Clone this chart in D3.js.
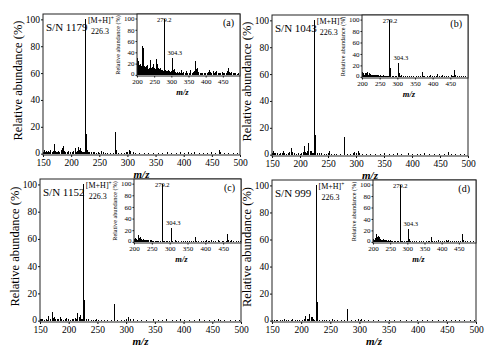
<!DOCTYPE html>
<html>
<head>
<meta charset="utf-8">
<script src="https://cdn.jsdelivr.net/npm/d3@7"></script>
<style>
  body { margin: 0; background: #fff; }
  svg text { font-family: "Liberation Serif", "Times New Roman", serif; fill: #000; }
  .tick line { stroke: #111; }
</style>
</head>
<body>
<svg id="chart" width="494" height="353"></svg>
<script>
// full spectra [m/z, relative abundance %]
const mainA = [[150.5,1.5],[152,2.5],[154,1],[156,2],[158,1.2],[160,1.8],[162,1],[164,3],[166,1.5],[168,2],[170,7],[172,2],[174,1.5],[176,1],[178,2],[180,1.5],[182,2.5],[184,4],[186,6],[188,2],[190,1.5],[193,1],[196,2],[199,1.2],[202,1.5],[205,2],[207,4],[209,1.5],[211,2],[213,5],[215,3],[216.5,4],[218,2],[220,1.5],[222,1],[224,1.5],[226.3,100],[227.3,15],[228.3,3],[230,1.5],[233,1],[236,1.5],[239,1.2],[242,1],[245,0.8],[248,1],[251,0.7],[254,2.2],[257,1],[261,0.6],[265,0.8],[270,0.6],[275,0.8],[279.2,16],[280.2,3],[284,0.8],[289,0.6],[294,0.8],[298,1],[301,1.5],[304.3,3],[306,2],[310,1.2],[315,0.6],[322,0.8],[330,0.6],[338,0.5],[347,0.8],[355,0.5],[363,0.6],[371,1.5],[379,0.6],[388,0.5],[395,1],[402,0.6],[409,1.5],[414,0.8],[420,1.5],[428,0.6],[436,0.5],[443,0.6],[450,1],[457,0.5],[464,3],[466,1.5],[472,0.8],[480,0.5],[488,0.6],[496,0.5]];
const mainB = [[151,1.5],[153,2.5],[155,1.5],[157,1],[160,1.2],[163,0.8],[166,1.5],[169,1],[171,3],[173,1.5],[176,0.8],[179,1],[182,2],[185,5],[187,2],[190,1],[194,0.8],[197,1.2],[200,0.8],[203,1.5],[206,2],[208,6.5],[210,2],[212,1.5],[214,3],[216,9],[218,3],[220,3],[222,1.5],[224,1],[226.3,100],[227.3,15],[228.3,3],[231,1],[235,1],[239,1.2],[243,0.7],[247,0.8],[250,1],[253,2.5],[256,0.8],[261,0.5],[266,0.6],[272,0.5],[279.2,13.5],[280.2,2.5],[285,0.5],[291,0.6],[296,1.5],[298,2],[301,1],[304.3,3],[306,1.5],[311,0.8],[318,0.5],[326,0.5],[335,0.6],[343,0.4],[351,1],[360,0.4],[367,0.5],[374,1],[382,0.4],[393,1],[400,0.5],[409,0.8],[416,0.5],[423,1],[431,0.4],[440,0.5],[449,0.6],[458,0.5],[465,2],[470,0.6],[478,0.4],[486,0.5],[494,0.4]];
const mainC = [[151,1],[153,1.5],[155,1],[158,0.8],[161,1.2],[163,0.8],[165.5,3.7],[168,1.5],[171,6],[173,2],[174.5,2.5],[177,1],[180,1],[183,1.5],[186,3],[188,1.5],[191,0.8],[194,1],[197,2],[200,1],[203,0.8],[206,1.2],[209,1],[212,2],[214,1.5],[216,5.7],[218,2.5],[220,4],[222,1.5],[224,1],[226.3,100],[227.3,15],[228.3,3],[231,1],[235,1],[239,0.8],[243,0.6],[246,0.8],[249,1.5],[252,0.6],[257,0.8],[262,0.5],[268,0.5],[274,0.6],[279.2,12],[280.2,2.2],[285,0.5],[292,0.5],[298,0.8],[301,1],[304.3,2.5],[307,1.2],[313,1.5],[319,0.5],[327,0.4],[336,0.5],[348,1],[357,0.4],[364,0.5],[371,1],[380,0.4],[388,0.4],[394,1],[402,0.4],[410,0.5],[419,0.4],[428,1],[437,0.4],[446,0.5],[453,0.4],[460,1.5],[464,0.8],[472,0.4],[481,0.5],[490,0.4],[497,0.3]];
const mainD = [[151,0.6],[154,0.8],[157,0.5],[160,0.6],[164,0.5],[168,0.8],[171,1],[175,0.5],[179,0.6],[183,0.5],[186,1],[190,0.5],[194,0.6],[198,0.5],[202,0.8],[205,1],[208,3.5],[211,1],[213,1.5],[215,5],[217,2.5],[219,2.5],[221,1],[223,0.8],[226.3,100],[227.3,14],[228.3,2.5],[232,0.6],[236,0.8],[240,0.5],[244,0.6],[249,0.8],[253,1],[258,0.5],[263,0.4],[269,0.4],[274,0.5],[279.2,8.5],[280.2,1.5],[286,0.4],[293,0.4],[299,1],[302,0.8],[304.3,1],[308,0.5],[315,0.4],[324,0.3],[333,0.4],[344,0.5],[352,0.3],[360,0.4],[371,0.5],[380,0.3],[390,0.4],[399,0.7],[408,0.4],[416,0.5],[426,0.3],[435,0.4],[444,0.3],[450,0.5],[458,0.3],[464,0.7],[471,0.3],[480,0.4],[490,0.3],[497,0.3]];

// inset spectra (MS/MS of 226.3)
const insetA = [[200.5,30],[201.5,22],[203,15],[204,25],[205,12],[206,18],[207,10],[208,14],[209,8],[210,20],[211,12],[212,9],[213,16],[214,11],[215,52],[216,18],[217,12],[218,10],[219,25],[220,48],[221,15],[222,12],[223,9],[224,14],[225,10],[226,12],[227,15],[228,9],[229,11],[230,8],[231,12],[232,18],[233,9],[234,10],[235,8],[236,12],[237,9],[238,14],[239,10],[240,27],[241,12],[242,9],[243,11],[244,8],[245,10],[246,14],[247,20],[248,10],[249,9],[250,12],[251,8],[252,10],[253,9],[254,11],[255,8],[256,14],[257,28],[258,12],[259,9],[260,10],[261,20],[262,12],[263,8],[264,9],[265,7],[266,10],[267,12],[268,7],[269,8],[270,6],[271,8],[272,6],[273,7],[274,6],[275,8],[276,5],[277,6],[279.2,100],[280.2,14],[281,6],[282,8],[283,5],[285,6],[287,5],[289,7],[291,5],[292,8],[294,5],[296,6],[298,5],[300,6],[302,7],[304.3,30],[305.3,8],[307,6],[309,10],[311,5],[313,5],[316,4],[319,5],[322,4],[325,5],[328,4],[330,8],[333,4],[336,5],[340,4],[344,6],[348,4],[352,4],[357,8],[361,4],[365,5],[368,6],[370,25],[372,8],[374,10],[377,12],[380,5],[384,4],[388,4],[392,3],[396,4],[400,3],[404,4],[408,5],[412,8],[415,5],[418,4],[422,7],[426,4],[429,5],[432,6],[436,4],[440,3],[444,4],[448,5],[452,3],[456,3],[460,4],[464,6],[467,12],[469,5],[472,4],[476,5],[480,3],[484,3],[488,3],[492,2],[496,3]];
const insetB = [[200.5,6],[202,8],[204,5],[205.5,7],[207,4],[209,6],[211,4],[213,7],[214.5,5],[216,8],[218,4],[220,6],[222,3],[224,5],[226,4],[228,3],[230,4],[232,3],[234,4],[236,3],[238,3],[240,4],[242,2.5],[244,3],[246,2],[248,3],[250,2],[252,3],[254,2],[256,2],[258,2],[260,2.5],[263,1.5],[266,2],[269,1.5],[272,1.5],[275,1.2],[279.2,100],[280.2,15],[282,2],[286,1.5],[290,1.5],[294,1.2],[298,1.5],[302,2],[304.3,25],[305.3,6],[308,2],[312,3],[317,1],[322,1],[328,1],[334,1],[340,1],[347,1.2],[354,1],[361,1],[366,1.5],[370,8],[373,2],[378,1],[384,1],[390,1],[395,3],[400,1],[406,1],[412,2],[415,5],[418,2],[424,1],[429,4],[434,1.5],[440,1],[446,1.2],[452,4],[456,1.5],[460,2],[463,12],[465,4],[470,1.5],[476,1],[482,1],[488,1],[494,1]];
const insetC = [[200.5,5],[202,4],[204,6],[206,3],[208,5],[210,4],[212,6],[213.5,11],[215,6],[217,8],[219,4],[221,5],[223,3],[225,4],[228,5],[230,3],[232,3],[234,4],[236,2.5],[238,3],[240,4],[242,2],[245,2.5],[248,2],[250,3],[253,2],[256,2],[259,2],[262,1.5],[266,1.5],[270,1.5],[274,1.2],[279.2,100],[280.2,20],[282,2],[286,1.5],[290,1.2],[295,1],[300,1.5],[304.3,23],[305.3,5],[308,2],[315,4],[320,1],[326,1],[332,1],[338,1],[344,1.2],[350,1],[356,1],[362,1],[368,1.5],[373,8],[376,2],[382,1],[388,1],[394,1],[400,1.5],[404,3],[409,1.5],[413,1.2],[418,4],[422,1.5],[428,1],[436,3],[441,1],[447,1],[452,1.5],[458,2],[462,13],[465,3],[470,1],[474,3],[480,1],[486,1],[492,0.8],[498,0.8]];
const insetD = [[200.5,4],[202,5],[204,3],[206,6],[208,4],[210,13],[211.5,6],[213,8],[215,10],[217,5],[219,8],[221,4],[223,5],[225,3],[227,4],[229,3],[231,5],[233,2.5],[235,3],[237,2],[240,4],[243,2],[246,2.5],[249,2],[252,3],[255,1.5],[258,2],[262,1.5],[266,1.2],[270,1.2],[274,1],[279.2,100],[280.2,20],[282,2],[287,1.2],[292,1],[297,1],[301,1.5],[304.3,22],[305.3,5],[309,1.5],[314,1],[320,0.8],[327,0.8],[334,1],[341,0.8],[348,0.8],[355,1],[362,0.8],[366,1],[370,8],[373,1.5],[380,0.8],[386,1],[392,4],[396,1],[402,0.8],[408,1],[413,4],[416,1],[421,4],[426,1],[432,0.8],[438,1],[444,0.8],[450,1],[456,1],[462,14],[464,4],[470,1],[476,0.8],[484,0.8],[492,0.8]];

const snLabels = ["S/N 1179", "S/N 1043", "S/N 1152", "S/N 999"];
const panelTags = ["(a)", "(b)", "(c)", "(d)"];
const mainTicksX = [150, 200, 250, 300, 350, 400, 450, 500];
const insetTicksX = [200, 250, 300, 350, 400, 450];
const ticksY = [0, 20, 40, 60, 80, 100];
const precursor = 226.3;
const fragments = [279.2, 304.3];

// frame boxes (pixel layout)
const layout = [
  { l: 43,  r: 240, t: 14,  b: 155, il: 137, ib: 76 },
  { l: 272, r: 468, t: 15,  b: 156, il: 362, ib: 78 },
  { l: 40,  r: 241, t: 179, b: 322, il: 134, ib: 243 },
  { l: 272, r: 476, t: 180, b: 322, il: 373, ib: 243 }
];
const mains = [mainA, mainB, mainC, mainD];
const insets = [insetA, insetB, insetC, insetD];

const svg = d3.select("#chart");

function sticks(g, data, x, y) {
  g.append("g").selectAll("line")
    .data(data)
    .join("line")
    .attr("x1", d => x(d[0])).attr("x2", d => x(d[0]))
    .attr("y1", y(0)).attr("y2", d => y(d[1]))
    .attr("stroke", "#000")
    .attr("stroke-width", 1)
    .attr("shape-rendering", "crispEdges");
}

layout.forEach((p, i) => {
  const g = svg.append("g");

  // main spectrum
  const x = d3.scaleLinear().domain([150, 500]).range([p.l, p.r]);
  const y = d3.scaleLinear().domain([-1, 104]).range([p.b, p.t]);
  sticks(g, mains[i], x, y);

  const ax = g.append("g")
    .attr("transform", `translate(0,${p.b})`)
    .call(d3.axisBottom(x).tickValues(mainTicksX).tickSize(2).tickSizeOuter(0).tickPadding(2.5));
  ax.select(".domain").remove();
  ax.selectAll("text").style("font-size", "9.5px");

  const ay = g.append("g")
    .attr("transform", `translate(${p.l},0)`)
    .call(d3.axisLeft(y).tickValues(ticksY).tickSize(2).tickSizeOuter(0).tickPadding(1));
  ay.select(".domain").remove();
  ay.selectAll("text").style("font-size", "9.5px");
  ay.selectAll("text").filter(d => d === 0).attr("dy", "0.2em");

  g.append("rect")
    .attr("x", p.l).attr("y", p.t)
    .attr("width", p.r - p.l).attr("height", p.b - p.t)
    .attr("fill", "none").attr("stroke", "#222").attr("stroke-width", 1);

  g.append("text")
    .attr("transform", `translate(${p.l - 21},${(p.t + p.b) / 2 - 4}) rotate(-90)`)
    .attr("text-anchor", "middle")
    .style("font-size", "12.5px")
    .text("Relative abundance (%)");

  g.append("text")
    .attr("x", (p.l + p.r) / 2).attr("y", p.b + 23)
    .attr("text-anchor", "middle")
    .style("font-size", "11px").style("font-style", "italic").style("font-weight", "bold")
    .text("m/z");

  g.append("text")
    .attr("x", p.l + 3).attr("y", p.t + 17)
    .style("font-size", "11px")
    .text(snLabels[i]);

  const px = x(precursor);
  const mh = g.append("text")
    .attr("x", px + 2).attr("y", p.t + 9)
    .style("font-size", "8px")
    .text("[M+H]");
  mh.append("tspan").attr("dy", -3).style("font-size", "5.5px").text("+");
  g.append("text")
    .attr("x", px + 5).attr("y", p.t + 20)
    .style("font-size", "8px")
    .text(precursor.toFixed(1));

  // inset MS/MS
  const xi = d3.scaleLinear().domain([200, 500]).range([p.il, p.r]);
  const yi = d3.scaleLinear().domain([-2, 108]).range([p.ib, p.t]);

  g.append("rect")
    .attr("x", p.il).attr("y", p.t)
    .attr("width", p.r - p.il).attr("height", p.ib - p.t)
    .attr("fill", "#fff");

  sticks(g, insets[i], xi, yi);

  const bx = g.append("g")
    .attr("transform", `translate(0,${p.ib})`)
    .call(d3.axisBottom(xi).tickValues(insetTicksX).tickSize(1.5).tickSizeOuter(0).tickPadding(2));
  bx.select(".domain").remove();
  bx.selectAll("text").style("font-size", "7px");

  const by = g.append("g")
    .attr("transform", `translate(${p.il},0)`)
    .call(d3.axisLeft(yi).tickValues(ticksY).tickSize(1.5).tickSizeOuter(0).tickPadding(1));
  by.select(".domain").remove();
  by.selectAll("text").style("font-size", "7px");
  by.selectAll("text").filter(d => d === 0).attr("dy", "0.05em");

  g.append("rect")
    .attr("x", p.il).attr("y", p.t)
    .attr("width", p.r - p.il).attr("height", p.ib - p.t)
    .attr("fill", "none").attr("stroke", "#222").attr("stroke-width", 1);

  g.append("text")
    .attr("transform", `translate(${p.il - 17},${(p.t + p.ib) / 2}) rotate(-90)`)
    .attr("text-anchor", "middle")
    .style("font-size", "6.2px")
    .text("Relative abundance (%)");

  g.append("text")
    .attr("x", (p.il + p.r) / 2 - 6).attr("y", p.ib + 19)
    .attr("text-anchor", "middle")
    .style("font-size", "8.5px").style("font-style", "italic").style("font-weight", "bold")
    .text("m/z");

  g.append("text")
    .attr("x", p.r - 6).attr("y", p.t + 12)
    .attr("text-anchor", "end")
    .style("font-size", "10px")
    .text(panelTags[i]);

  // fragment labels
  const f1 = insets[i].find(d => d[0] === fragments[0]);
  g.append("text")
    .attr("x", xi(f1[0])).attr("y", yi(f1[1]) + 3)
    .attr("text-anchor", "middle")
    .style("font-size", "6.5px")
    .text(fragments[0].toFixed(1));
  const f2 = insets[i].find(d => d[0] === fragments[1]);
  g.append("text")
    .attr("x", xi(f2[0]) + 2).attr("y", yi(f2[1]) - 3)
    .attr("text-anchor", "middle")
    .style("font-size", "6.5px")
    .text(fragments[1].toFixed(1));
});
</script>
</body>
</html>
